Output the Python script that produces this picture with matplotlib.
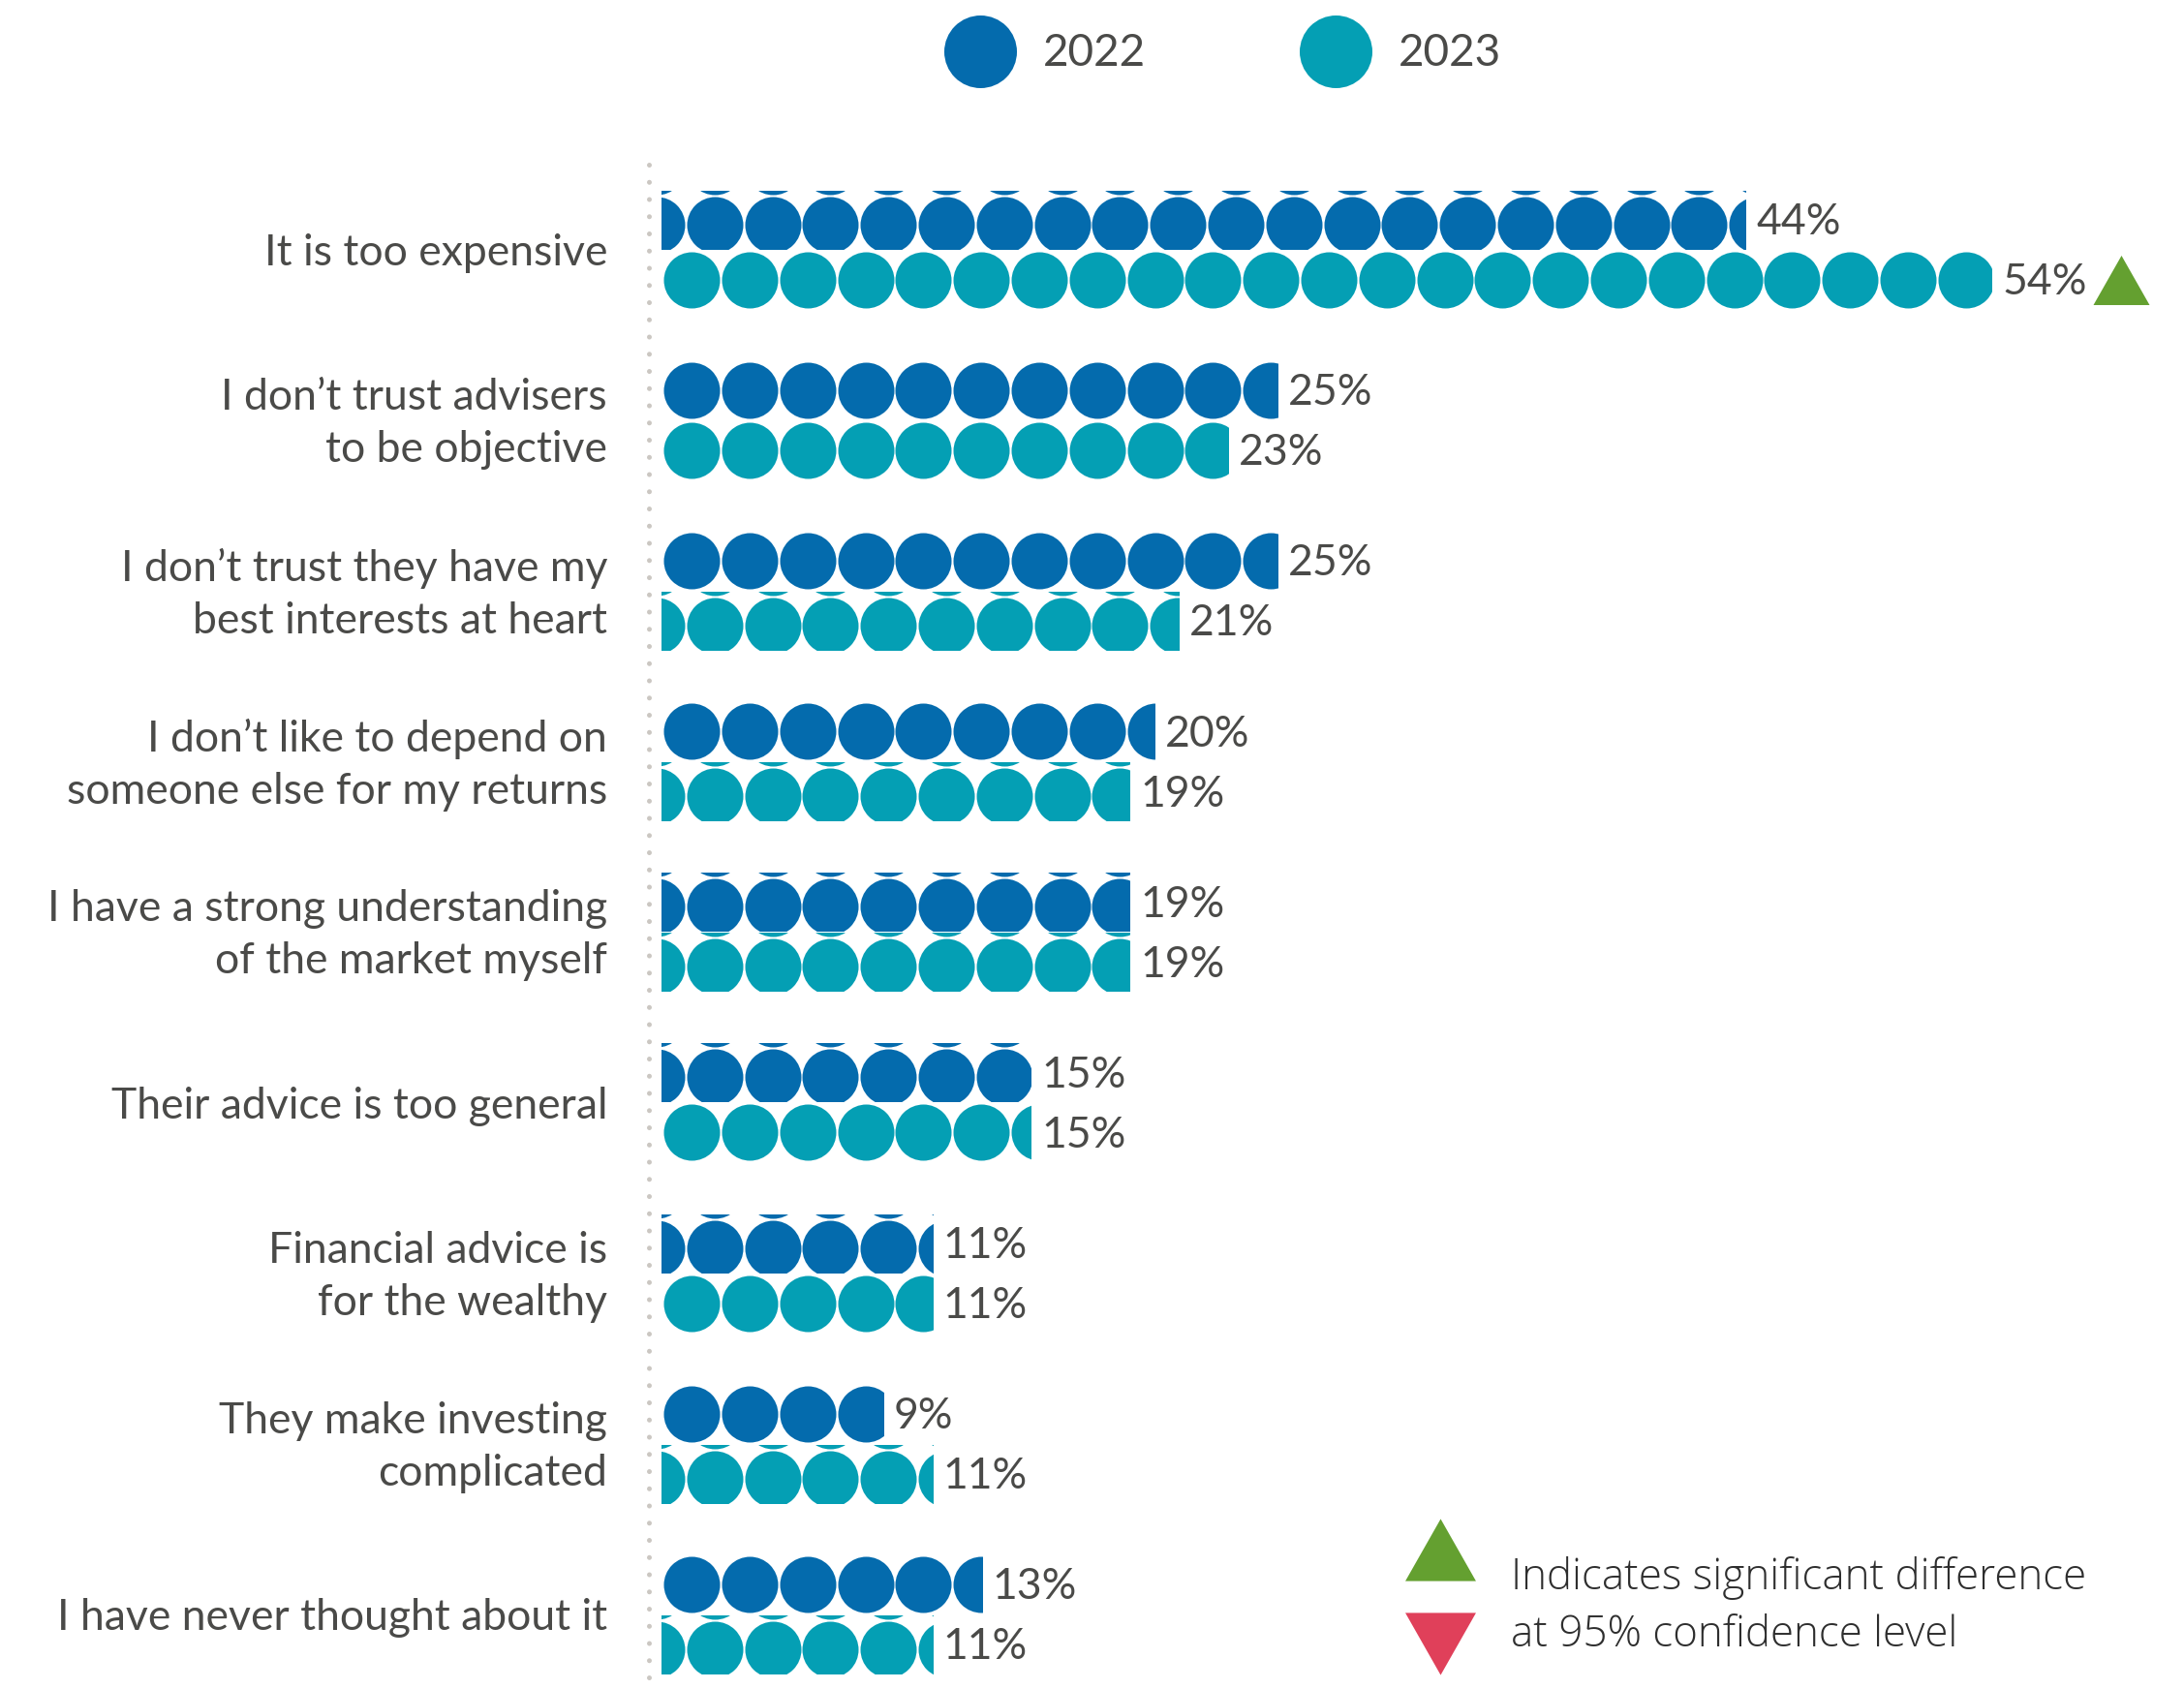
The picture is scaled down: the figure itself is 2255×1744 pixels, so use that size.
import numpy as np
import matplotlib.pyplot as plt
from matplotlib.patches import Rectangle

plt.rcParams['font.family'] = ['Lato', 'DejaVu Sans']

categories = [
    "It is too expensive",
    "I don\u2019t trust advisers\nto be objective",
    "I don\u2019t trust they have my\nbest interests at heart",
    "I don\u2019t like to depend on\nsomeone else for my returns",
    "I have a strong understanding\nof the market myself",
    "Their advice is too general",
    "Financial advice is\nfor the wealthy",
    "They make investing\ncomplicated",
    "I have never thought about it",
]
values_2022 = [44, 25, 25, 20, 19, 15, 11, 9, 13]
values_2023 = [54, 23, 21, 19, 19, 15, 11, 11, 11]
sig_2023 = ["up", None, None, None, None, None, None, None, None]
years = ["2022", "2023"]

# colours
C2022 = "#046BAD"
C2023 = "#049FB4"
GREEN = "#64A030"
RED = "#E0405A"
TEXT = "#4A4A48"

# circle tiling inside each bar: some rows are drawn with the tile shifted
shift_2022 = [True, False, False, False, True, True, True, False, False]
shift_2023 = [False, False, True, True, True, False, False, True, True]

W, H = 2255, 1744
fig = plt.figure(figsize=(W / 100, H / 100), dpi=100)
ax = fig.add_axes([0, 0, 1, 1])

px_per_pct = 25.43
row_px = 176.1
x_zero, y_zero = 683, 258
ax.set_xlim(-x_zero / px_per_pct, (W - x_zero) / px_per_pct)
ax.set_ylim((H - y_zero) / row_px, -y_zero / row_px)
ax.axis('off')

pitch = 59.8 / px_per_pct          # circle spacing along x, in %
row_pitch = 60 / row_px            # circle spacing along y, in rows
bar_h = 60 / row_px
bar_off = 31 / row_px
diam_pt = 58 * 72 / 100


def draw_bar(y, value, color, shifted):
    if shifted:
        x0, dy = -0.2, 5 / row_px
    else:
        x0, dy = 1.23, 0
    xs = np.arange(x0, value + pitch, pitch)
    ys = np.array([-row_pitch, 0, row_pitch]) + y + dy
    xx, yy = np.meshgrid(xs, ys)
    sc = ax.scatter(xx.ravel(), yy.ravel(), s=diam_pt ** 2, color=color,
                    linewidths=0, zorder=2)
    clip = Rectangle((0, y - bar_h / 2), value, bar_h, transform=ax.transData)
    sc.set_clip_path(clip)


# dotted baseline
n = len(categories)
ax.plot([-0.51, -0.51], [-0.5, n - 1 + 0.415], color="#CBC7C2", lw=3.6,
        linestyle=(0, (0.01, 3.54)), dash_capstyle='round', zorder=1)

tri_up = [(-1, -0.88), (1, -0.88), (0, 0.88)]
tri_down = [(-1, 0.88), (1, 0.88), (0, -0.88)]

for i, cat in enumerate(categories):
    ax.text(-2.2, i + 0.02, cat, ha='right', va='center', multialignment='right',
            fontsize=32, color=TEXT, linespacing=1.39)
    for v, col, sh, dy in [(values_2022[i], C2022, shift_2022[i], -bar_off),
                           (values_2023[i], C2023, shift_2023[i], bar_off)]:
        draw_bar(i + dy, v, col, sh)
        ax.annotate(f"{v}%", (v, i + dy), xytext=(8, -2), textcoords='offset points',
                    ha='left', va='center', fontsize=32, color=TEXT)
    if sig_2023[i]:
        marker = tri_up if sig_2023[i] == "up" else tri_down
        ax.scatter([values_2023[i] + 5.26], [i + bar_off], marker=marker,
                   s=(58 * 0.72) ** 2, color=GREEN if sig_2023[i] == "up" else RED,
                   linewidths=0, zorder=3, clip_on=False)

# year legend at the top
for x, yr, col in [(0.4486, years[0], C2022), (0.6115, years[1], C2023)]:
    fig.add_artist(plt.Line2D([x], [1 - 53 / H], marker='o', markersize=54,
                              color=col, markeredgewidth=0, transform=fig.transFigure))
    fig.text(x + 0.029, 1 - 55 / H, yr, ha='left', va='center', fontsize=33, color=TEXT)

# significance key
fig.add_artist(plt.Line2D([1486.5 / W], [1 - 1600 / H], marker=tri_up, markersize=52.5,
                          color=GREEN, markeredgewidth=0, transform=fig.transFigure))
fig.add_artist(plt.Line2D([1486.5 / W], [1 - 1697 / H], marker=tri_down, markersize=52.5,
                          color=RED, markeredgewidth=0, transform=fig.transFigure))
fig.text(1560 / W, 1 - 1659 / H, "Indicates significant difference\nat 95% confidence level",
         ha='left', va='center', fontsize=31.7, fontfamily=['Open Sans', 'DejaVu Sans'],
         fontweight='light', color="#2E2E2E", linespacing=1.42)

fig.savefig("out.png", dpi=100)
